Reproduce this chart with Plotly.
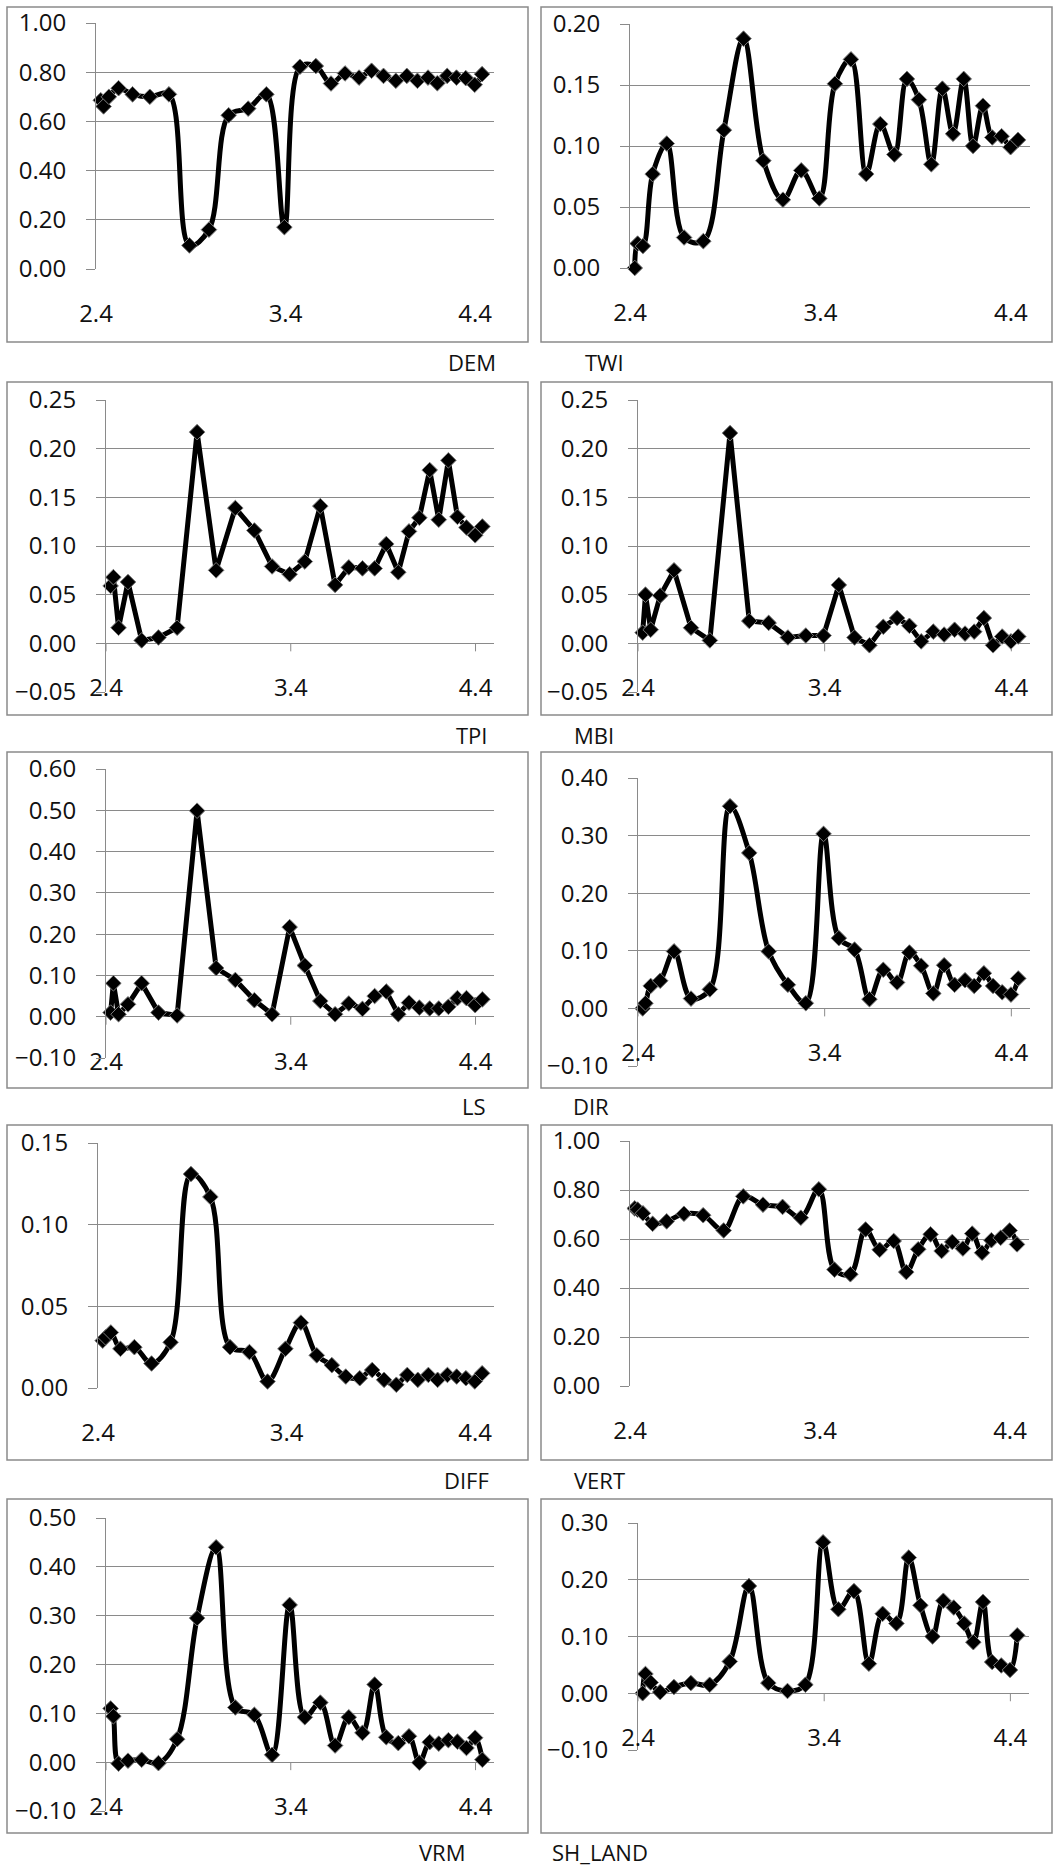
import plotly.graph_objects as go

# ---------------- data ----------------
X = [2.425, 2.44, 2.468, 2.519, 2.593, 2.684, 2.785, 2.893, 2.996, 3.10,
     3.203, 3.299, 3.394, 3.476, 3.56, 3.64, 3.714, 3.788, 3.854, 3.917,
     3.982, 4.04, 4.096, 4.152, 4.201, 4.253, 4.302, 4.351, 4.398, 4.437]

DEM = [0.686, 0.661, 0.700, 0.735, 0.710, 0.700, 0.710, 0.096, 0.160, 0.625,
       0.652, 0.710, 0.170, 0.822, 0.825, 0.754, 0.795, 0.778, 0.806, 0.785,
       0.765, 0.785, 0.765, 0.778, 0.755, 0.785, 0.778, 0.776, 0.749, 0.792]
TWI = [0.000, 0.020, 0.018, 0.077, 0.102, 0.025, 0.022, 0.113, 0.188, 0.088,
       0.056, 0.080, 0.057, 0.151, 0.171, 0.077, 0.118, 0.093, 0.155, 0.138,
       0.085, 0.147, 0.110, 0.155, 0.100, 0.133, 0.107, 0.108, 0.099, 0.105]
TPI = [0.059, 0.068, 0.016, 0.063, 0.003, 0.006, 0.016, 0.217, 0.075, 0.139,
       0.116, 0.079, 0.071, 0.084, 0.141, 0.060, 0.078, 0.077, 0.077, 0.102,
       0.073, 0.115, 0.129, 0.178, 0.127, 0.188, 0.130, 0.119, 0.111, 0.120]
MBI = [0.011, 0.050, 0.014, 0.049, 0.075, 0.016, 0.003, 0.216, 0.023, 0.021,
       0.006, 0.008, 0.008, 0.060, 0.006, -0.002, 0.017, 0.026, 0.018, 0.002,
       0.012, 0.009, 0.014, 0.010, 0.012, 0.026, -0.002, 0.007, 0.002, 0.007]
LS = [0.010, 0.081, 0.006, 0.030, 0.081, 0.010, 0.003, 0.499, 0.118, 0.089,
      0.040, 0.006, 0.217, 0.124, 0.038, 0.006, 0.032, 0.019, 0.050, 0.061,
      0.006, 0.034, 0.022, 0.020, 0.020, 0.024, 0.045, 0.045, 0.028, 0.042]
DIR = [0.000, 0.009, 0.039, 0.048, 0.099, 0.017, 0.033, 0.351, 0.270, 0.099,
       0.041, 0.009, 0.303, 0.122, 0.102, 0.016, 0.067, 0.045, 0.097, 0.074,
       0.026, 0.075, 0.041, 0.049, 0.039, 0.061, 0.039, 0.028, 0.024, 0.052]
DIFF = [0.029, 0.031, 0.034, 0.024, 0.025, 0.015, 0.028, 0.131, 0.117, 0.025,
        0.022, 0.004, 0.024, 0.040, 0.020, 0.014, 0.007, 0.006, 0.011, 0.005,
        0.002, 0.008, 0.005, 0.008, 0.005, 0.008, 0.007, 0.006, 0.004, 0.009]
VERT = [0.725, 0.720, 0.705, 0.662, 0.672, 0.703, 0.697, 0.635, 0.774, 0.740,
        0.731, 0.687, 0.803, 0.475, 0.456, 0.639, 0.556, 0.592, 0.465, 0.558,
        0.619, 0.551, 0.588, 0.561, 0.622, 0.544, 0.595, 0.605, 0.635, 0.578]
VRM = [0.110, 0.094, -0.003, 0.003, 0.005, -0.002, 0.047, 0.295, 0.440, 0.112,
       0.097, 0.015, 0.322, 0.092, 0.122, 0.034, 0.092, 0.060, 0.159, 0.051,
       0.039, 0.053, -0.001, 0.041, 0.038, 0.045, 0.042, 0.029, 0.050, 0.005]
SH_LAND = [0.000, 0.034, 0.019, 0.002, 0.011, 0.018, 0.015, 0.056, 0.189, 0.018,
           0.004, 0.015, 0.266, 0.148, 0.180, 0.052, 0.140, 0.123, 0.239, 0.155,
           0.100, 0.163, 0.151, 0.123, 0.090, 0.161, 0.055, 0.049, 0.041, 0.102]

NAMES = ["DEM", "TWI", "TPI", "MBI", "LS", "DIR", "DIFF", "VERT", "VRM", "SH_LAND"]
SERIES = [DEM, TWI, TPI, MBI, LS, DIR, DIFF, VERT, VRM, SH_LAND]
Y_MIN = [0, 0, -0.05, -0.05, -0.1, -0.1, 0, 0, -0.1, -0.1]
Y_MAX = [1.0, 0.2, 0.25, 0.25, 0.6, 0.4, 0.15, 1.0, 0.5, 0.3]
Y_STEP = [0.2, 0.05, 0.05, 0.05, 0.1, 0.1, 0.05, 0.2, 0.1, 0.1]
X_TICKS = [2.4, 3.4, 4.4]
X_TICK_TEXT = ["2.4", "3.4", "4.4"]
X_MIN, X_MAX = 2.4, 4.5

# ---------------- layout / style (pixels) ----------------
W, H = 1053, 1868
SMOOTH = [True, True, False, False, False, True, True, True, True, True]
# plot boxes: x0, x1, ytop, ybottom
BOX = [(96, 494, 23, 269), (630, 1030, 24, 268),
       (106, 494, 400, 692), (638, 1030, 400, 692),
       (106, 494, 769, 1058), (638, 1030, 778, 1066),
       (98, 494, 1143, 1388), (630, 1029, 1141, 1386),
       (106, 494, 1518, 1811), (638, 1029, 1523, 1750)]
ROWS = [(7, 342), (382, 715), (752, 1088), (1125, 1460), (1499, 1833)]
COLS = [(7, 528), (541, 1052)]
LABEL_POS = [(498, 362), (583, 362), (490, 735), (572, 735), (488, 1106),
             (571, 1106), (491, 1480), (572, 1480), (467, 1852), (550, 1852)]

FONT = "Open Sans"
TICK_SIZE = 24
GRID = "#8a8a8a"
TXT = "#111111"

fig = go.Figure()
shapes = []
annotations = []

for i, (name, vals) in enumerate(zip(NAMES, SERIES)):
    k = "" if i == 0 else str(i + 1)
    x0, x1, yt, yb = BOX[i]
    lo, hi, st = Y_MIN[i], Y_MAX[i], Y_STEP[i]
    eps = (hi - lo) * 1e-6

    # position of y=0 in pixels -> x labels sit a fixed distance below it
    zero_px = yt + (hi - 0) / (hi - lo) * (yb - yt)
    standoff = (zero_px + 46) - yb - 18

    fig.add_trace(go.Scatter(
        x=X, y=vals, mode="lines+markers",
        line=dict(color="black", width=5,
                  shape="spline" if SMOOTH[i] else "linear", smoothing=1.0),
        marker=dict(symbol="diamond", size=12, color="black",
                    line=dict(color="#7a7a7a", width=1)),
        xaxis="x" + k, yaxis="y" + k, cliponaxis=False, hoverinfo="skip",
        showlegend=False))

    fig.layout["xaxis" + k] = dict(
        domain=[x0 / W, x1 / W], range=[X_MIN, X_MAX], anchor="y" + k,
        tickmode="array", tickvals=X_TICKS, ticktext=X_TICK_TEXT,
        showgrid=False, zeroline=False, showline=False, ticks="",
        automargin=False,
        tickfont=dict(family=FONT, size=TICK_SIZE, color=TXT),
        ticklabelstandoff=int(round(standoff)), fixedrange=True)
    fig.layout["yaxis" + k] = dict(
        domain=[1 - yb / H, 1 - yt / H], range=[lo - eps, hi + eps],
        anchor="x" + k, tick0=0, dtick=st, tickformat=".2f",
        showgrid=True, gridcolor=GRID, gridwidth=1, zeroline=False,
        showline=True, linecolor=GRID, linewidth=1,
        ticks="outside", ticklen=9, tickcolor=GRID, tickwidth=1,
        automargin=False,
        tickfont=dict(family=FONT, size=TICK_SIZE, color=TXT),
        ticklabelstandoff=15, fixedrange=True)

    # small tick marks of the horizontal axis at y = 0
    for t in X_TICKS:
        shapes.append(dict(type="line", xref="x" + k, yref="y" + k,
                           ysizemode="pixel", yanchor=0, x0=t, x1=t, y0=0, y1=-8,
                           line=dict(color=GRID, width=1), layer="below"))

    # panel border
    r, c = divmod(i, 2)
    bx0, bx1 = COLS[c]
    by0, by1 = ROWS[r]
    shapes.append(dict(type="rect", xref="paper", yref="paper",
                       x0=bx0 / W, x1=bx1 / W, y0=1 - by1 / H, y1=1 - by0 / H,
                       line=dict(color=GRID, width=1.5), fillcolor="rgba(0,0,0,0)",
                       layer="below"))

    lx, ly = LABEL_POS[i]
    annotations.append(dict(text=name, xref="paper", yref="paper",
                            x=lx / W, y=1 - ly / H,
                            xanchor="right" if c == 0 else "left", yanchor="middle",
                            showarrow=False,
                            font=dict(family=FONT, size=22, color=TXT)))

fig.update_layout(template="none", autosize=False,
                  width=W, height=H,
                  margin=dict(l=0, r=0, t=0, b=0, pad=0, autoexpand=False),
                  paper_bgcolor="white", plot_bgcolor="white",
                  shapes=shapes, annotations=annotations, showlegend=False)

fig.write_html("out.html",
               post_script="document.body.style.margin='0px';"
                           "document.body.style.overflow='hidden';")
